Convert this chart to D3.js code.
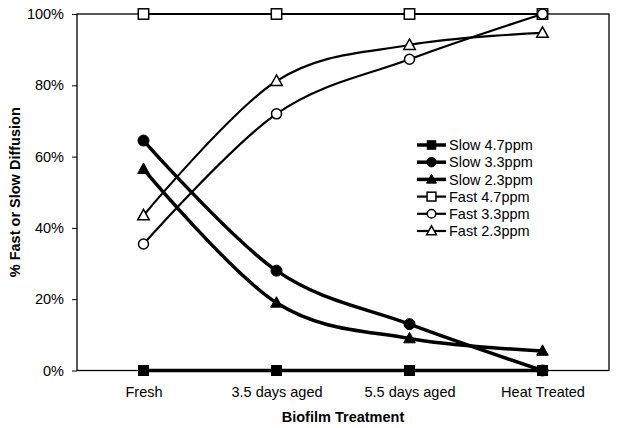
<!DOCTYPE html>
<html><head><meta charset="utf-8">
<script src="https://cdn.jsdelivr.net/npm/d3@7"></script>
<style>body{margin:0;background:#fff}svg{display:block}text{font-family:"Liberation Sans",Arial,sans-serif}</style>
</head><body>
<svg id="c" width="618" height="428"></svg>
<script>
const categories = ["Fresh", "3.5 days aged", "5.5 days aged", "Heat Treated"];
const seriesNames = ["Slow 4.7ppm", "Slow 3.3ppm", "Slow 2.3ppm", "Fast 4.7ppm", "Fast 3.3ppm", "Fast 2.3ppm"];
const slow47 = [0, 0, 0, 0];
const slow33 = [64.5, 28, 13, 0];
const slow23 = [56.5, 19, 9, 5.5];
const fast47 = [100, 100, 100, 100];
const fast33 = [35.5, 72, 87.3, 100];
const fast23 = [43.5, 81.2, 91.3, 94.7];
const yTicks = [0, 20, 40, 60, 80, 100];
const markerShapes = ["square", "circle", "triangle", "square", "circle", "triangle"];
const markerFilled = [true, true, true, false, false, false];

const values = [slow47, slow33, slow23, fast47, fast33, fast23];
const svg = d3.select("#c");
const m = {l: 77, r: 9, t: 14, b: 58};
const W = 618, H = 428;
const FS = 14.5;
const x = d3.scalePoint().domain(categories).range([m.l, W - m.r]).padding(0.5);
const y = d3.scaleLinear().domain([0, 100]).range([H - m.b + 0.5, m.t]);

// axes
const yAxis = svg.append("g").attr("transform", `translate(${m.l},0)`)
  .call(d3.axisLeft(y).tickValues(yTicks).tickFormat(d => d + "%").tickSize(5).tickPadding(8));
yAxis.select(".domain").remove();
yAxis.selectAll("text").attr("font-size", FS).attr("fill", "#000").attr("font-family", "Liberation Sans, Arial, sans-serif");
yAxis.selectAll("line").attr("stroke", "#000");

const xAxis = svg.append("g").attr("transform", `translate(0,${y(0)})`)
  .call(d3.axisBottom(x).tickSize(0).tickPadding(16));
xAxis.select(".domain").remove();
xAxis.selectAll("text").attr("font-size", FS).attr("fill", "#000").attr("font-family", "Liberation Sans, Arial, sans-serif");

// plot frame
svg.append("rect").attr("x", m.l).attr("y", y(100)).attr("width", W - m.r - m.l).attr("height", y(0) - y(100))
  .attr("fill", "none").attr("stroke", "#000").attr("stroke-width", 1.3);

// titles
svg.append("text").attr("x", (m.l + W - m.r) / 2).attr("y", 421.5).attr("text-anchor", "middle")
  .attr("font-size", FS).attr("font-weight", "bold").text("Biofilm Treatment");
svg.append("text").attr("transform", `translate(20,${(y(0) + y(100)) / 2}) rotate(-90)`).attr("text-anchor", "middle")
  .attr("font-size", FS).attr("font-weight", "bold").text("% Fast or Slow Diffusion");

const line = d3.line().x((d, i) => x(categories[i])).y(d => y(d)).curve(d3.curveCardinal.tension(0));

function marker(g, shape, filled, cx, cy, big) {
  const s = big ? 1 : 0.85;
  let el;
  if (shape === "square") {
    const h = (filled ? 5 : 5.2) * s;
    el = g.append("rect").attr("x", cx - h).attr("y", cy - h).attr("width", 2 * h).attr("height", 2 * h);
  } else if (shape === "circle") {
    el = g.append("circle").attr("cx", cx).attr("cy", cy).attr("r", (filled ? 5.5 : 5) * s);
  } else {
    const h = 5.5 * s;
    el = g.append("path").attr("d", `M${cx},${cy - h * 1.1}L${cx + h * 1.05},${cy + h * 0.8}L${cx - h * 1.05},${cy + h * 0.8}Z`);
  }
  el.attr("fill", filled ? "#000" : "#fff").attr("stroke", "#000").attr("stroke-width", filled ? 1 : 1.5);
}

// series lines
const order = [3, 4, 5, 0, 1, 2];
order.forEach(k => {
  svg.append("path").attr("d", line(values[k])).attr("fill", "none").attr("stroke", "#000")
    .attr("stroke-width", k < 3 ? 3.5 : 2.2);
});
order.forEach(k => {
  const g = svg.append("g");
  values[k].forEach((v, i) => marker(g, markerShapes[k], markerFilled[k], x(categories[i]), y(v), true));
});

// legend
const lg = svg.append("g").attr("transform", "translate(417,145)");
seriesNames.forEach((name, k) => {
  const yy = k * 17.2;
  lg.append("line").attr("x1", 0).attr("x2", 29).attr("y1", yy).attr("y2", yy)
    .attr("stroke", "#000").attr("stroke-width", k < 3 ? 3.5 : 2.2);
  marker(lg, markerShapes[k], markerFilled[k], 14.5, yy, false);
  lg.append("text").attr("x", 32).attr("y", yy + 5.2).attr("font-size", FS).text(name);
});
</script>
</body></html>
